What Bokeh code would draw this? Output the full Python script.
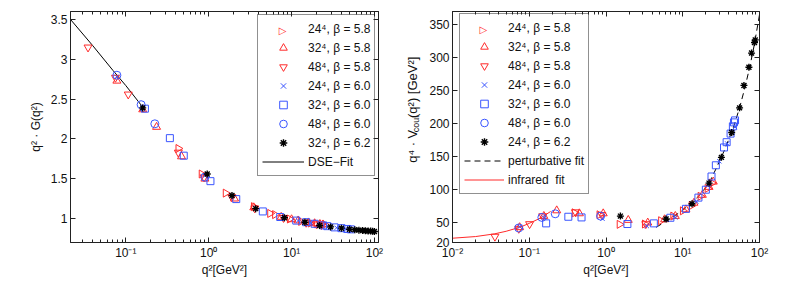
import numpy as np
from bokeh.plotting import figure
from bokeh.layouts import row
from bokeh.models import (LogAxis, LinearAxis, FixedTicker, CustomJSTickFormatter,
                          Legend, LegendItem, Range1d)
from bokeh.core.properties import value
from bokeh.embed import file_html
from bokeh.resources import INLINE

FONT = "Liberation Sans"
RED = "#ff2a2a"
BLUE = "#3a55ff"
BLACK = "black"
TXT = "#111111"

# ---------------- left panel data: q^2 * G(q^2) ----------------
L_x24_58 = [0.43, 0.82, 1.6, 3.5, 5.5, 6.3, 9.5, 13, 17, 20, 23, 25]
L_y24_58 = [1.88, 1.56, 1.32, 1.15, 1.065, 1.05, 0.995, 0.965, 0.945, 0.935, 0.93, 0.925]
L_x32_58 = [0.078, 0.16, 0.235, 0.47, 0.9, 2.05, 3.5, 7.5, 10, 12, 16, 19, 22, 24]
L_y32_58 = [2.73, 2.37, 2.15, 1.78, 1.50, 1.25, 1.14, 1.02, 0.99, 0.975, 0.95, 0.94, 0.93, 0.925]
L_x48_58 = [0.035, 0.075, 0.107, 0.43, 0.88, 1.9, 3.6, 8, 15, 20, 23]
L_y48_58 = [3.15, 2.77, 2.56, 1.83, 1.52, 1.27, 1.13, 1.01, 0.95, 0.93, 0.92]
L_x24_60 = [0.078, 0.16, 0.9, 1.9, 3.7, 8, 12, 17, 22, 28, 35, 45]
L_y24_60 = [2.78, 2.38, 1.54, 1.29, 1.13, 1.01, 0.975, 0.945, 0.92, 0.9, 0.885, 0.87]
L_x32_60 = [0.17, 0.34, 0.5, 1.05, 2.15, 4.5, 7.3, 11.4, 15, 19, 24, 27, 33, 40, 47, 52]
L_y32_60 = [2.38, 2.01, 1.79, 1.47, 1.245, 1.09, 1.02, 0.975, 0.955, 0.935, 0.915, 0.905, 0.89, 0.88, 0.87, 0.865]
L_x48_60 = [0.078, 0.153, 0.224, 0.9]
L_y48_60 = [2.80, 2.43, 2.19, 1.52]
L_x32_62 = [0.16, 0.96, 1.91, 3.69, 8.2, 14.5, 21.8, 29.6, 40, 50, 58, 65, 72, 78, 84, 90, 95, 100]
L_y32_62 = [2.39, 1.56, 1.29, 1.125, 1.01, 0.955, 0.913, 0.896, 0.88, 0.867, 0.86, 0.855, 0.85, 0.847, 0.845, 0.843, 0.84, 0.838]
L_fit_x = [0.0215, 0.04, 0.07, 0.1, 0.16]
L_fit_y = [3.5, 3.17, 2.86, 2.67, 2.40]
L_yticks = [1, 1.5, 2, 2.5, 3, 3.5]
L_labels = ["24\u2074, \u03b2 = 5.8", "32\u2074, \u03b2 = 5.8", "48\u2074, \u03b2 = 5.8",
            "24\u2074, \u03b2 = 6.0", "32\u2074, \u03b2 = 6.0", "48\u2074, \u03b2 = 6.0",
            "32\u2074, \u03b2 = 6.2", "DSE\u2212Fit"]

# ---------------- right panel data: q^4 * V_coul(q^2) ----------------
R_x24_58 = [0.39, 0.82, 1.5, 3.2, 5.2, 7.5, 10, 13, 17, 21, 24]
R_y24_58 = [65, 62, 47.5, 48, 53, 60, 68, 76, 90, 102, 110]
R_x32_58 = [0.075, 0.155, 0.228, 0.45, 0.92, 1.95, 3.5, 5.8, 8, 11, 14, 18, 22, 25]
R_y32_58 = [43, 60, 68.5, 64, 64, 54, 50, 55, 60, 70, 80, 92, 104, 112]
R_x48_58 = [0.0357, 0.073, 0.101, 0.15, 0.4, 0.88, 3.3]
R_y48_58 = [29, 41, 48, 60, 66, 62, 48]
R_x24_60 = [0.075, 0.155, 0.9, 3.4, 8, 15, 22, 30, 38, 48]
R_y24_60 = [44, 58, 56, 45, 58, 82, 108, 143, 170, 195]
R_x32_60 = [0.166, 0.323, 0.48, 1.9, 4.2, 6.9, 11, 16, 20, 23.7, 27, 34.5, 37.3, 42, 45, 46.5, 48]
R_y32_60 = [49, 59, 58, 48, 49, 57.5, 71, 88, 100, 120, 137, 164, 172, 185, 196, 202, 205]
R_x48_60 = [0.073, 0.146, 0.218, 0.85]
R_y48_60 = [42, 58, 63.5, 60]
R_x24_62 = [1.54, 6.07, 13.2, 22, 31.9, 43.4, 55, 62.7, 72.8, 78.8, 86, 88]
R_y24_62 = [60, 55.5, 78.6, 110, 149, 186.7, 224, 258, 285.6, 307, 323, 327]
R_pert_x = [4.5, 6, 8, 10, 13, 17, 22, 28, 35, 45, 55, 65, 75, 85, 100, 110]
R_pert_y = [43, 52, 61, 69, 80, 93, 110, 135, 160, 192, 224, 256, 287, 318, 365, 395]
R_ir_x = [0.01, 0.02, 0.035, 0.05, 0.075, 0.1, 0.14, 0.19]
R_ir_y = [26.5, 29, 33, 37, 43, 49, 57, 67]
R_yticks = [20, 50, 100, 150, 200, 250, 300, 350]
R_labels = ["24\u2074, \u03b2 = 5.8", "32\u2074, \u03b2 = 5.8", "48\u2074, \u03b2 = 5.8",
            "24\u2074, \u03b2 = 6.0", "32\u2074, \u03b2 = 6.0", "48\u2074, \u03b2 = 6.0",
            "24\u2074, \u03b2 = 6.2", "perturbative fit", "infrared  fit"]
R_ylabel_parts = ["q\u2074 \u00b7 V", "coul", "(q\u00b2) [GeV\u00b2]"]

DECADES = [0.01, 0.1, 1, 10, 100]
MINORS = [m * d for d in [0.001, 0.01, 0.1, 1, 10, 100] for m in range(2, 10)]

LOGFMT = CustomJSTickFormatter(code="""
const e = Math.round(Math.log10(tick));
const m = {"-":"\\u207B","0":"\\u2070","1":"\\u00B9","2":"\\u00B2","3":"\\u00B3"};
return "10" + String(e).split("").map(c => m[c]).join("");
""")
NUMFMT = CustomJSTickFormatter(code="return String(tick);")
NOFMT = CustomJSTickFormatter(code="return '';")

FH = 281           # figure height
BT, BB = 11, 39    # top / bottom borders
BR = 22


def style_axis(ax, labels=True, log=False):
    ax.axis_line_color = "#222222"
    ax.major_tick_line_color = "#222222"
    ax.major_tick_in = 5
    ax.major_tick_out = 0
    if log:
        ax.minor_tick_line_color = "#222222"
        ax.minor_tick_in = 3
        ax.minor_tick_out = 0
    else:
        ax.minor_tick_line_color = None
    ax.major_label_text_font = FONT
    ax.major_label_text_font_size = "12px" if labels else "0px"
    ax.major_label_text_color = TXT
    ax.major_label_standoff = 3 if labels else 0
    ax.axis_label_text_font = FONT
    ax.axis_label_text_font_size = "12px"
    ax.axis_label_text_font_style = "normal"
    ax.axis_label_text_color = TXT
    ax.axis_label_standoff = 0


def make_panel(width, xr, yr, yticks, border_left):
    p = figure(width=width, height=FH, x_axis_type="log",
               x_range=Range1d(*xr), y_range=Range1d(*yr),
               output_backend="svg", toolbar_location=None,
               min_border_left=border_left, min_border_right=BR,
               min_border_top=BT, min_border_bottom=BB)
    p.grid.visible = False
    p.outline_line_color = "#222222"
    p.background_fill_color = "white"
    xt = FixedTicker(ticks=DECADES, minor_ticks=MINORS)
    yt = FixedTicker(ticks=yticks)
    bottom = p.below[0]
    left = p.left[0]
    bottom.ticker = xt
    bottom.formatter = LOGFMT
    left.ticker = yt
    left.formatter = NUMFMT
    style_axis(bottom, log=True)
    style_axis(left)
    bottom.axis_label = "q\u00b2[GeV\u00b2]"
    top = LogAxis(ticker=xt, formatter=NOFMT)
    style_axis(top, labels=False, log=True)
    p.add_layout(top, "above")
    right = LinearAxis(ticker=yt, formatter=NOFMT)
    style_axis(right, labels=False)
    p.add_layout(right, "right")
    return p, left


def add_series(p, xs, ys):
    specs = [
        dict(marker="triangle", angle=-np.pi / 2, size=8, line_color=RED),
        dict(marker="triangle", size=8, line_color=RED),
        dict(marker="inverted_triangle", size=8, line_color=RED),
        dict(marker="x", size=6, line_color=BLUE),
        dict(marker="square", size=7, line_color=BLUE),
        dict(marker="circle", size=8, line_color=BLUE),
        dict(marker="asterisk", size=7, line_color=BLACK, line_width=1.4),
    ]
    rs = []
    for x, y, kw in zip(xs, ys, specs):
        kw.setdefault("line_width", 1)
        rs.append(p.scatter(x, y, fill_color=None, **kw))
    return rs


def make_legend(p, renderers, labels, loc, glyph_w):
    # right-pointing triangle entry: invisible proxy + text symbol seen through the legend
    proxy = p.scatter(x=[], y=[], marker="dot", line_alpha=0, fill_alpha=0)
    rlist = [proxy] + renderers[1:]
    items = [LegendItem(label=l, renderers=[r]) for l, r in zip(labels, rlist)]
    lg = Legend(items=items, location=loc, border_line_color="#222222",
                border_line_width=1, background_fill_color="white", background_fill_alpha=0,
                label_text_font=FONT, label_text_font_size="12px", label_text_color=TXT,
                glyph_width=glyph_w, glyph_height=19, label_height=19, spacing=0,
                padding=4, margin=0, label_standoff=4)
    p.add_layout(lg)
    return lg


def px_to_data(xr, yr, fw, fh, dx, dy_from_top):
    lx = np.log10(xr[0]) + dx / fw * (np.log10(xr[1]) - np.log10(xr[0]))
    y = yr[1] - dy_from_top / fh * (yr[1] - yr[0])
    return 10 ** lx, y


def legend_symbol(p, xr, yr, fw, fh, dx, dy):
    sx, sy = px_to_data(xr, yr, fw, fh, dx, dy)
    p.text(x=[float(sx)], y=[float(sy)], text=["\u25b7"], text_color=RED,
           text_font=value("DejaVu Sans"), text_font_size="10px",
           text_align="center", text_baseline="middle")


# ---------------- left ----------------
L_xr, L_yr = (0.0215, 112), (0.7, 3.6)
W1, BL1 = 400, 70
p1, ly1 = make_panel(W1, L_xr, L_yr, L_yticks, BL1)
ly1.axis_label = "q\u00b2 \u00b7 G(q\u00b2)"
ly1.axis_label_standoff = 5
fit1 = p1.line(L_fit_x, L_fit_y, line_color="black", line_width=1)
rs1 = add_series(p1, [L_x24_58, L_x32_58, L_x48_58, L_x24_60, L_x32_60, L_x48_60, L_x32_62],
                 [L_y24_58, L_y32_58, L_y48_58, L_y24_60, L_y32_60, L_y48_60, L_y32_62])
fw1, fh1 = W1 - BL1 - BR, FH - BT - BB
lg1_h = 8 * 19 + 8
lg1_x, lg1_top = 187, 5
legend_symbol(p1, L_xr, L_yr, fw1, fh1, lg1_x + 4 + 21, lg1_top + 4 + 9.5)
make_legend(p1, rs1 + [fit1], L_labels, (lg1_x, fh1 - lg1_top - lg1_h), 42)

# ---------------- y label strip for right panel ----------------
WL = 26
pl = figure(width=WL, height=FH, x_range=Range1d(0, WL), y_range=Range1d(0, FH),
            output_backend="svg", toolbar_location=None,
            min_border_left=0, min_border_right=0, min_border_top=0, min_border_bottom=0)
pl.axis.visible = False
pl.grid.visible = False
pl.outline_line_color = None
start = 97.0
main_w, sub_w = 37.0, 17.0
pl.text(x=[12], y=[start], text=[R_ylabel_parts[0]], angle=np.pi / 2,
        text_font=value(FONT), text_font_size="13px", text_color=TXT,
        text_align="left", text_baseline="alphabetic")
pl.text(x=[15], y=[start + main_w], text=[R_ylabel_parts[1]], angle=np.pi / 2,
        text_font=value(FONT), text_font_size="9px", text_color=TXT,
        text_align="left", text_baseline="alphabetic")
pl.text(x=[12], y=[start + main_w + sub_w + 0.5], text=[R_ylabel_parts[2]], angle=np.pi / 2,
        text_font=value(FONT), text_font_size="13px", text_color=TXT,
        text_align="left", text_baseline="alphabetic")

# ---------------- right ----------------
R_xr, R_yr = (0.01, 100), (20, 370)
W2, BL2 = 781 - W1 - WL, 24
p2, ly2 = make_panel(W2, R_xr, R_yr, R_yticks, BL2)
pert = p2.line(R_pert_x, R_pert_y, line_color="black", line_width=1, line_dash="6 4")
ir = p2.line(R_ir_x, R_ir_y, line_color=RED, line_width=1)
rs2 = add_series(p2, [R_x24_58, R_x32_58, R_x48_58, R_x24_60, R_x32_60, R_x48_60, R_x24_62],
                 [R_y24_58, R_y32_58, R_y48_58, R_y24_60, R_y32_60, R_y48_60, R_y24_62])
fw2, fh2 = W2 - BL2 - BR, FH - BT - BB
lg2_h = 9 * 19 + 8
lg2_x, lg2_top = 7, 4
legend_symbol(p2, R_xr, R_yr, fw2, fh2, lg2_x + 4 + 20, lg2_top + 4 + 9.5)
make_legend(p2, rs2 + [pert, ir], R_labels, (lg2_x, fh2 - lg2_top - lg2_h), 40)

layout = row(p1, pl, p2)
open("out.html", "w").write(file_html(layout, INLINE))
